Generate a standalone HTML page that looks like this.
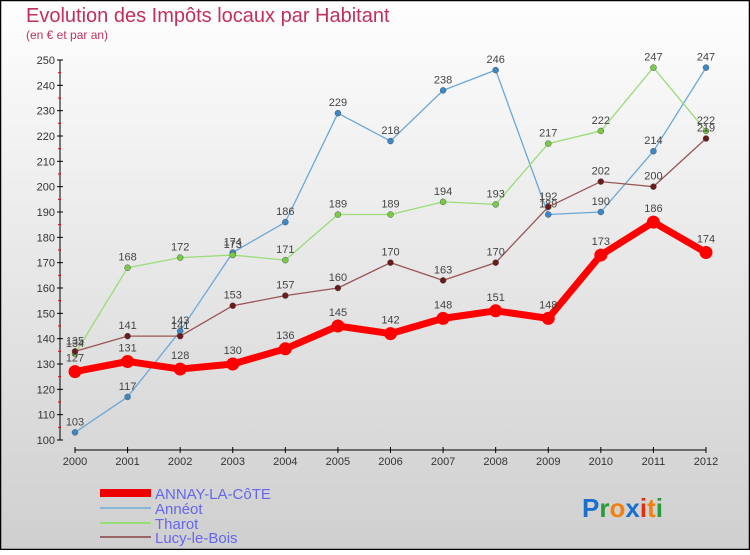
<!DOCTYPE html>
<html><head><meta charset="utf-8"><style>
body{margin:0}
#c{width:750px;height:550px;position:relative;font-family:"Liberation Sans",sans-serif}
</style></head><body>
<div id="c">
<svg id="s" width="750" height="550" xmlns="http://www.w3.org/2000/svg">
<defs><linearGradient id="bg" x1="0" y1="0" x2="0" y2="1"><stop offset="0" stop-color="#fefefe"/><stop offset="1" stop-color="#cfcfcf"/></linearGradient></defs>
<rect x="0.5" y="0.5" width="749" height="549" fill="url(#bg)" stroke="#000" stroke-width="1.5"/>
<text x="26" y="22" font-size="20" fill="#c0305a">Evolution des Impôts locaux par Habitant</text>
<text x="26" y="39" font-size="12" fill="#c0305a">(en € et par an)</text>
<g id="axes"></g><g id="series"></g>
<g>
<rect x="100" y="489" width="51" height="8" fill="#ee0000"/>
<text x="155" y="499" font-size="15" fill="#6666ee">ANNAY-LA-CôTE</text>
<rect x="100" y="507" width="51" height="2" fill="#88b8d8"/>
<text x="155" y="514" font-size="15" fill="#6666ee">Annéot</text>
<rect x="100" y="522" width="51" height="2" fill="#99dd77"/>
<text x="155" y="529" font-size="15" fill="#6666ee">Tharot</text>
<rect x="100" y="536" width="51" height="2" fill="#996666"/>
<text x="155" y="543" font-size="15" fill="#6666ee">Lucy-le-Bois</text>
</g>
<text x="582" y="517" font-size="26" font-weight="bold"><tspan fill="#1a6fd0">P</tspan><tspan fill="#2a9a3a">r</tspan><tspan fill="#f08010">o</tspan><tspan fill="#1a6fd0">x</tspan><tspan fill="#e03010">i</tspan><tspan fill="#f08010">t</tspan><tspan fill="#2a9a3a">i</tspan></text>
</svg></div>
<script>
const years=["2000","2001","2002","2003","2004","2005","2006","2007","2008","2009","2010","2011","2012"];
const annay=[127,131,128,130,136,145,142,148,151,148,173,186,174];
const anneot=[103,117,143,174,186,229,218,238,246,189,190,214,247];
const tharot=[134,168,172,173,171,189,189,194,193,217,222,247,222];
const lucy=[135,141,141,153,157,160,170,163,170,192,202,200,219];
const yTicks=[100,110,120,130,140,150,160,170,180,190,200,210,220,230,240,250];
const NS="http://www.w3.org/2000/svg";
const X=i=>75+i*(706-75)/12;
const Y=v=>440-(v-100)*(380/150);
function el(t,a,p){const e=document.createElementNS(NS,t);for(const k in a)e.setAttribute(k,a[k]);p.appendChild(e);return e;}
const ax=document.getElementById('axes'),sg=document.getElementById('series');
let l=el('line',{x1:60,y1:Y(250),x2:60,y2:Y(100),stroke:'#000'},ax);


l=el('line',{x1:X(0),y1:450,x2:X(12),y2:450,stroke:'#000'},ax);


yTicks.forEach((v,i)=>{
 el('line',{x1:57,y1:Y(v),x2:63,y2:Y(v),stroke:'#000'},ax);
 if(i<yTicks.length-1) el('line',{x1:58,y1:Y(v+5),x2:61,y2:Y(v+5),stroke:'#e00'},ax);
 const t=el('text',{x:55,y:Y(v)+4,'font-size':11,'text-anchor':'end',fill:'#333'},ax);
 t.textContent=v;
 
 
});
years.forEach((y,i)=>{
 el('line',{x1:X(i),y1:447,x2:X(i),y2:453,stroke:'#000'},ax);
 const t=el('text',{x:X(i),y:465,'font-size':11,'text-anchor':'middle',fill:'#333'},ax);
 t.textContent=y;
 
 
});
function series(d,name,lc,pc,w,r){
 const g=el('g',{},sg);
 
 
 el('polyline',{points:d.map((v,i)=>X(i)+','+Y(v)).join(' '),fill:'none',stroke:lc,'stroke-width':w,'stroke-linejoin':'round'},g);
 d.forEach((v,i)=>{
  const c=el('circle',{cx:X(i),cy:Y(v),r:r,fill:pc,stroke:w>3?'none':'#555','stroke-width':0.5},g);
  
  
  const t=el('text',{x:X(i),y:Y(v)-(w>3?10:7),'font-size':11,'text-anchor':'middle',fill:'#444'},g);
  t.textContent=v;
  
  
 });
}
series(anneot,'anneot','#6aa8d8','#3a88c8',1.3,3);
series(tharot,'tharot','#99dd77','#77cc44',1.3,3);
series(lucy,'lucy','#995555','#6a1a1a',1.3,3);
series(annay,'annay','#ff0000','#ff0000',7,6.5);
</script>
</body></html>
